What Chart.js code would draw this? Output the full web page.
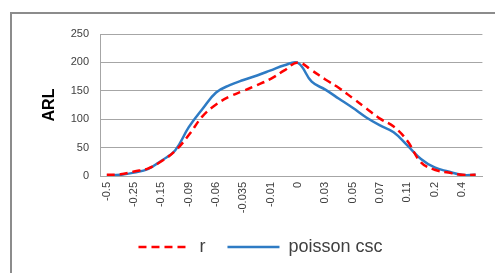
<!DOCTYPE html>
<html>
<head>
<meta charset="utf-8">
<script src="https://cdn.jsdelivr.net/npm/chart.js@4.4.0/dist/chart.umd.min.js"></script>
<style>
  html, body { margin: 0; padding: 0; background: #fff; overflow: hidden; }
  #wrap { position: relative; width: 495px; height: 273px; overflow: hidden; }
  #frame { position: absolute; left: 10px; top: 12px; width: 600px; height: 400px;
           border-left: 2px solid #8c8c8c; border-top: 2px solid #8c8c8c; }
  canvas { position: absolute; left: 0; top: 0; }
</style>
</head>
<body>
<div id="wrap">
  <div id="frame"></div>
  <canvas id="arlChart" width="495" height="273"></canvas>
</div>
<script>
// shift values (only every other one is printed on the axis)
const shifts = ['-0.5', '-0.3', '-0.25', '-0.2', '-0.15', '-0.1', '-0.09', '-0.07', '-0.06', '-0.05',
                '-0.035', '-0.02', '-0.01', '-0.005', '0', '0.01', '0.03', '0.04', '0.05', '0.06',
                '0.07', '0.09', '0.11', '0.15', '0.2', '0.3', '0.4', '0.5'];

const rValues = [2, 3, 8, 13, 26, 44, 72, 105, 126, 140, 150, 160, 171, 186, 200,
                 186, 170, 155, 137, 119, 101, 87, 62, 24, 11, 6, 2, 2];

const poissonCsc = [1, 2, 6, 12, 27, 45, 86, 118, 147, 160, 169, 177, 186, 195, 199,
                    166, 152, 136, 120, 103, 89, 77, 54, 30, 15, 8, 2, 2];

const yTicks = [0, 50, 100, 150, 200, 250];

const tickFont = { family: '"Liberation Sans", Arial, sans-serif', size: 11 };
const tickColor = '#404040';
const gridColor = '#a6a6a6';

const canvas = document.getElementById('arlChart');
new Chart(canvas, {
    type: 'line',
    data: {
        labels: shifts,
        datasets: [
            {
                label: 'r',
                data: rValues,
                borderColor: '#ff0000',
                backgroundColor: '#ff0000',
                borderWidth: 2.5,
                borderDash: [8, 5],
                pointRadius: 0,
                pointStyle: 'line',
                tension: 0.4
            },
            {
                label: 'poisson csc',
                data: poissonCsc,
                borderColor: '#2e7bc4',
                backgroundColor: '#2e7bc4',
                borderWidth: 2.5,
                pointRadius: 0,
                pointStyle: 'line',
                tension: 0.4
            }
        ]
    },
    options: {
        responsive: false,
        animation: false,
        devicePixelRatio: 1,
        layout: { padding: { left: 38, right: 12, top: 34, bottom: 7 } },
        plugins: {
            tooltip: { enabled: false },
            legend: {
                position: 'bottom',
                labels: {
                    usePointStyle: true,
                    pointStyleWidth: 52,
                    padding: 22,
                    color: '#404040',
                    font: { family: '"Liberation Sans", Arial, sans-serif', size: 18 },
                    // point styles don't carry the dash, copy it from the dataset
                    generateLabels: (chart) => {
                        const items = Chart.defaults.plugins.legend.labels.generateLabels(chart);
                        items.forEach(item => {
                            const ds = chart.data.datasets[item.datasetIndex];
                            item.lineDash = ds.borderDash || [];
                            item.lineWidth = ds.borderWidth;
                            item.strokeStyle = ds.borderColor;
                        });
                        return items;
                    }
                }
            }
        },
        scales: {
            x: {
                offset: true,
                grid: { display: false, drawTicks: false },
                border: { display: true, color: gridColor, width: 1 },
                ticks: {
                    autoSkip: false,
                    minRotation: 90,
                    maxRotation: 90,
                    padding: 6,
                    color: tickColor,
                    font: tickFont,
                    callback: function (value, index) {
                        return index % 2 === 0 ? this.getLabelForValue(value) : '';
                    }
                },
                afterFit: (scale) => { scale.height = 40; }
            },
            y: {
                min: 0,
                max: 250,
                afterBuildTicks: (scale) => { scale.ticks = yTicks.map(v => ({ value: v })); },
                grid: { color: gridColor, lineWidth: 1, drawTicks: false },
                border: { display: true, color: gridColor, width: 1 },
                ticks: { padding: 11, color: tickColor, font: tickFont },
                title: {
                    display: true,
                    text: 'ARL',
                    color: '#000',
                    padding: { top: 2, bottom: 0 },
                    font: { family: '"Liberation Sans", Arial, sans-serif', size: 16, weight: 'bold' }
                },
                afterFit: (scale) => { scale.width = 62; }
            }
        }
    }
});
</script>
</body>
</html>
